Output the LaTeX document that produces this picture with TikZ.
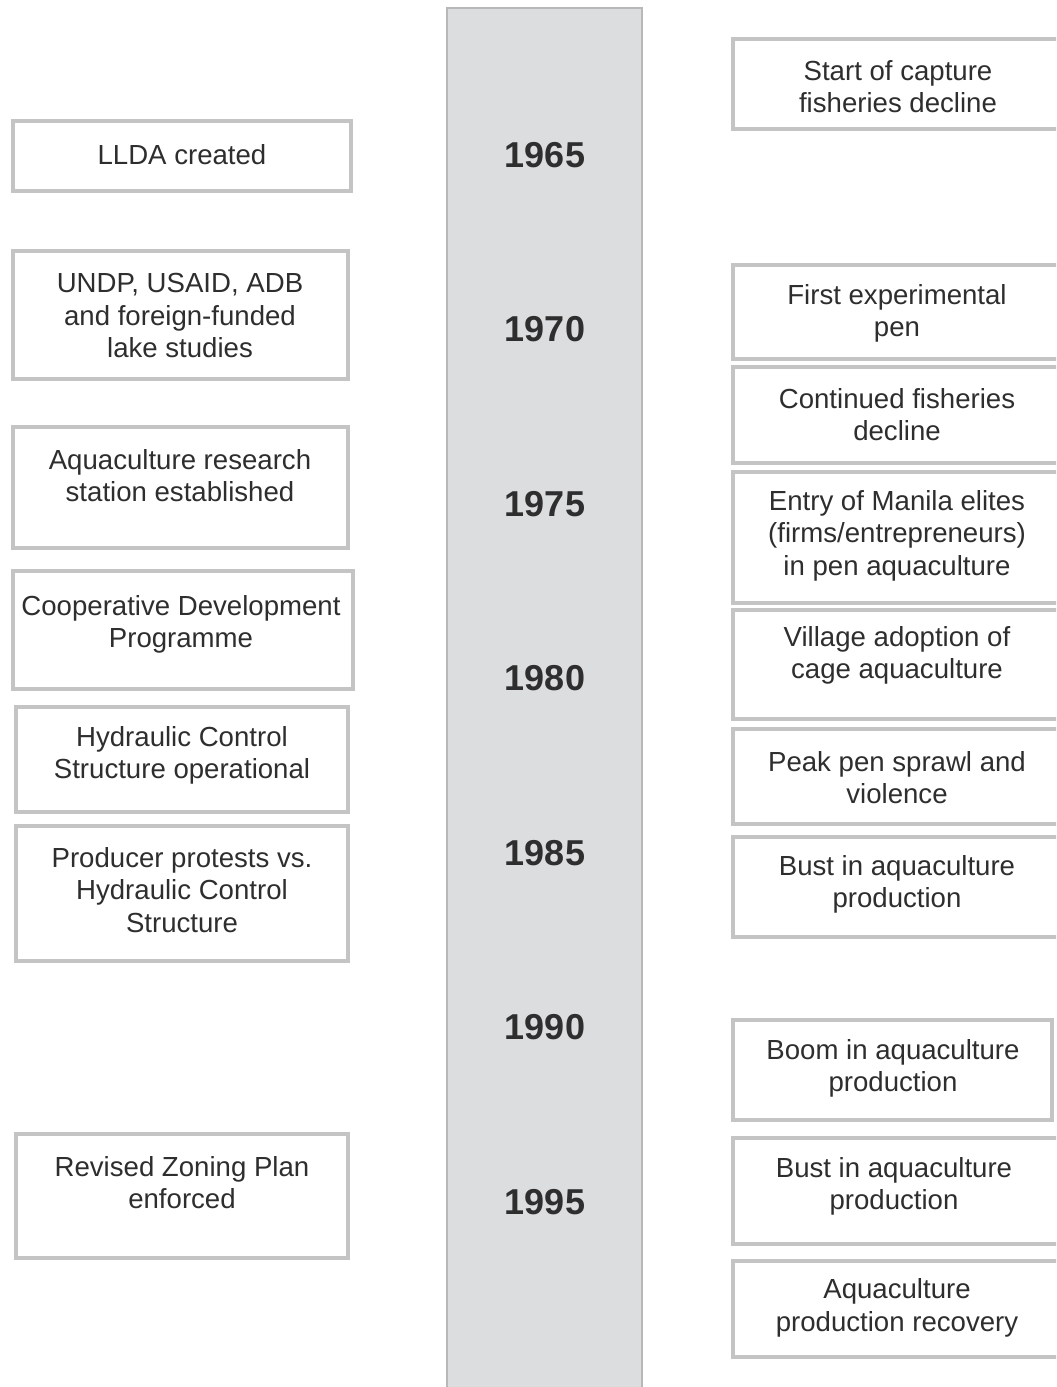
\documentclass[tikz,border=0pt]{standalone}
\usepackage{fontspec}
\setmainfont{Liberation Sans}
\definecolor{bargray}{HTML}{DCDDDF}
\definecolor{barline}{HTML}{B8B8B8}
\definecolor{boxline}{HTML}{C4C4C4}
\definecolor{inkgray}{HTML}{2E2E2E}
\begin{document}
\begin{tikzpicture}[x=0.5pt, y=-0.5pt,
    evtbox/.style={draw=boxline, line width=2pt, fill=white},
    evttext/.style={align=center, text=inkgray, inner sep=0pt,
        font=\fontsize{13.8pt}{16.25pt}\selectfont},
    yearlbl/.style={text=inkgray, inner sep=0pt, font=\fontsize{18pt}{20pt}\selectfont\bfseries}]
            \clip (0,0) rectangle (1056,1387);
            \fill[white] (0,0) rectangle (1056,1387);
            % time axis
            \draw[fill=bargray, draw=barline, line width=1pt] (447,8) rectangle (642,1400);
            \foreach \yr [count=\i from 0] in {1965,1970,1975,1980,1985,1990,1995}
                \node[yearlbl] (y\yr) at (545,155+174.5*\i) {\yr};
            % left column
            \draw[evtbox] (13,121) rectangle (351,191);
            \draw[evtbox] (13,251) rectangle (348,379);
            \draw[evtbox] (13,427) rectangle (348,548);
            \draw[evtbox] (13,571) rectangle (353,689);
            \draw[evtbox] (16,707) rectangle (348,812);
            \draw[evtbox] (16,826) rectangle (348,961);
            \draw[evtbox] (16,1134) rectangle (348,1258);
            \node[evttext] (llda) at (182,155) {LLDA created};
            \node[evttext] (studies) at (180,315.5) {UNDP, USAID, ADB\\and foreign-funded\\lake studies};
            \node[evttext] (station) at (180,475.5) {Aquaculture research\\station established};
            \node[evttext] (coopdev) at (181,624.5) {Cooperative Development\\Programme};
            \node[evttext] (hcsop) at (182,755.5) {Hydraulic Control\\Structure operational};
            \node[evttext] (protests) at (182,890) {Producer protests vs.\\Hydraulic Control\\Structure};
            \node[evttext] (zoning) at (182,1182.5) {Revised Zoning Plan\\enforced};
            % right column
            \draw[evtbox] (733,39) rectangle (1066,129);
            \draw[evtbox] (733,265) rectangle (1066,359);
            \draw[evtbox] (733,367) rectangle (1066,463);
            \draw[evtbox] (733,472) rectangle (1066,603);
            \draw[evtbox] (733,610) rectangle (1066,719);
            \draw[evtbox] (733,729) rectangle (1066,824);
            \draw[evtbox] (733,837) rectangle (1066,937);
            \draw[evtbox] (733,1020) rectangle (1052,1120);
            \draw[evtbox] (733,1138) rectangle (1066,1244);
            \draw[evtbox] (733,1261) rectangle (1066,1357);
            \node[evttext] (capture) at (898,86.5) {Start of capture\\fisheries decline};
            \node[evttext] (firstpen) at (897,313.5) {First experimental\\pen};
            \node[evttext] (decline) at (897,414.5) {Continued fisheries\\decline};
            \node[evttext] (elites) at (897,535.5) {Entry of Manila elites\\(firms/entrepreneurs)\\in pen aquaculture};
            \node[evttext] (village) at (897,655.5) {Village adoption of\\cage aquaculture};
            \node[evttext] (sprawl) at (897,777.5) {Peak pen sprawl and\\violence};
            \node[evttext] (bustA) at (897,884.5) {Bust in aquaculture\\production};
            \node[evttext] (boom) at (893,1068.5) {Boom in aquaculture\\production};
            \node[evttext] (bustB) at (894,1186.5) {Bust in aquaculture\\production};
            \node[evttext] (recovery) at (897,1308) {Aquaculture\\production recovery};
        \end{tikzpicture}
\end{document}
